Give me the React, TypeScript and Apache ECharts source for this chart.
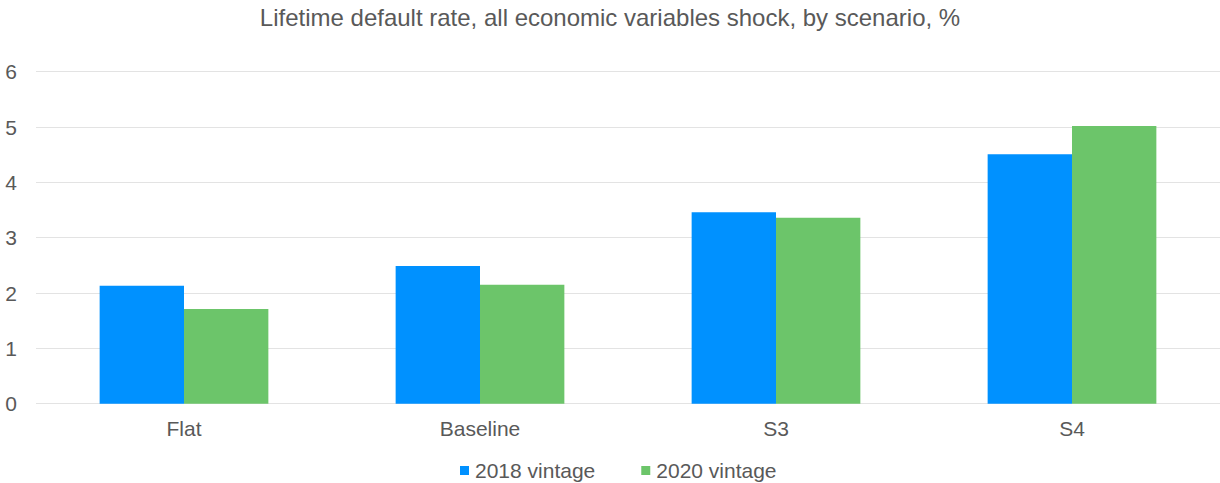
import React, { useEffect, useRef } from "react";
import * as echarts from "echarts";

const categories = ["Flat", "Baseline", "S3", "S4"];
const vintage2018 = [2.13, 2.49, 3.46, 4.51];
const vintage2020 = [1.71, 2.15, 3.36, 5.02];
const seriesNames = ["2018 vintage", "2020 vintage"];
const titleText = "Lifetime default rate, all economic variables shock, by scenario, %";

const FONT = "'Liberation Sans', Arial, sans-serif";
const TEXT = "#595959";

export default function App() {
  const ref = useRef<HTMLDivElement>(null);

  useEffect(() => {
    if (!ref.current) return;
    const chart = echarts.init(ref.current, null, { renderer: "svg" });
    chart.setOption({
      animation: false,
      backgroundColor: "#ffffff",
      title: {
        text: titleText,
        left: "center",
        top: 0,
        textStyle: { fontFamily: FONT, fontSize: 24, fontWeight: "normal", color: TEXT },
      },
      legend: {
        top: 455,
        left: 455,
        itemWidth: 9,
        itemHeight: 9,
        itemGap: 46,
        icon: "rect",
        textStyle: { fontFamily: FONT, fontSize: 21, color: TEXT, padding: [0, 0, 0, 1] },
        data: seriesNames,
      },
      grid: { left: 36, width: 1188, top: 71.7, height: 332, containLabel: false },
      xAxis: {
        type: "category",
        data: categories,
        axisLine: { show: false },
        axisTick: { show: false },
        axisLabel: { fontFamily: FONT, fontSize: 21, color: TEXT, margin: 14 },
      },
      yAxis: {
        type: "value",
        min: 0,
        max: 6,
        interval: 1,
        axisLine: { show: false },
        axisTick: { show: false },
        axisLabel: { fontFamily: FONT, fontSize: 21, color: TEXT, margin: 19, align: "right" },
        splitLine: { lineStyle: { color: "#e3e3e3", width: 1 } },
      },
      series: [
        {
          name: seriesNames[0],
          type: "bar",
          data: vintage2018,
          barGap: "0%",
          barCategoryGap: "43%",
          itemStyle: { color: "#0091ff" },
        },
        {
          name: seriesNames[1],
          type: "bar",
          data: vintage2020,
          barGap: "0%",
          barCategoryGap: "43%",
          itemStyle: { color: "#6cc56a" },
        },
      ],
    });
    return () => chart.dispose();
  }, []);

  return (
    <div
      ref={ref}
      style={{ position: "absolute", left: 0, top: 0, width: 1220, height: 483 }}
    />
  );
}
